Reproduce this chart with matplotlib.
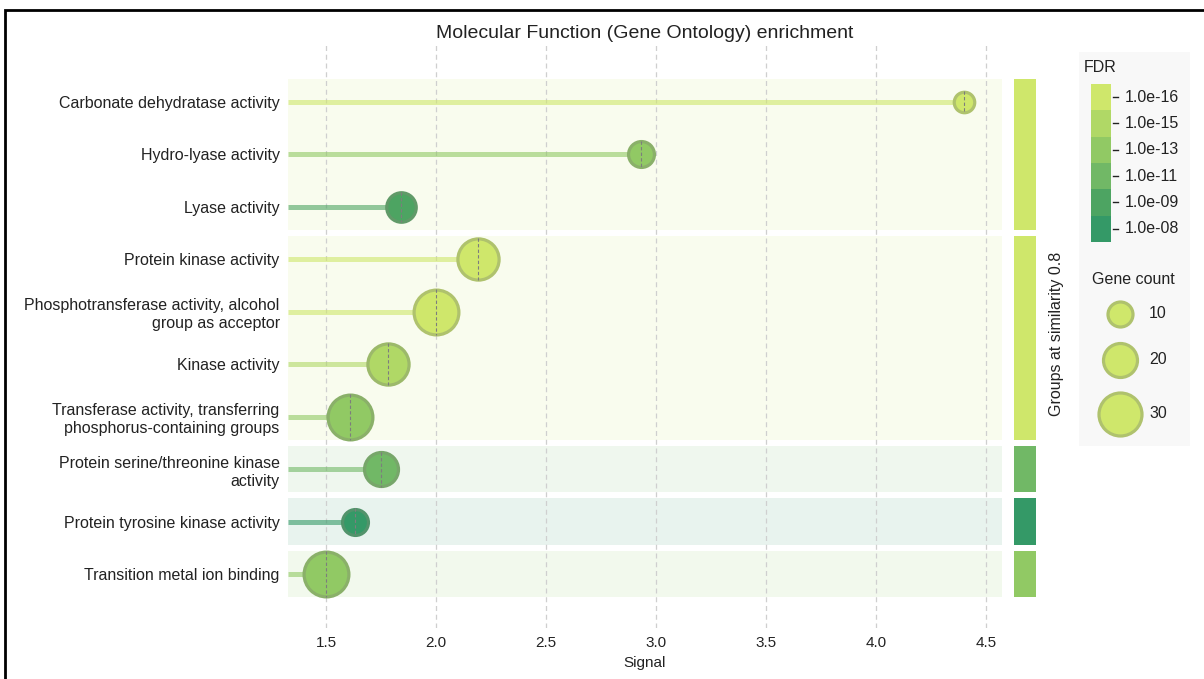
import numpy as np
import matplotlib
matplotlib.use("Agg")
import matplotlib.pyplot as plt
from matplotlib.colors import to_rgb
from matplotlib.patches import Rectangle

plt.rcParams['font.family'] = ['Liberation Sans', 'DejaVu Sans']

# data
terms = ["Carbonate dehydratase activity",
         "Hydro-lyase activity",
         "Lyase activity",
         "Protein kinase activity",
         "Phosphotransferase activity, alcohol\ngroup as acceptor",
         "Kinase activity",
         "Transferase activity, transferring\nphosphorus-containing groups",
         "Protein serine/threonine kinase\nactivity",
         "Protein tyrosine kinase activity",
         "Transition metal ion binding"]
signal = [4.40, 2.93, 1.84, 2.19, 2.00, 1.78, 1.61, 1.75, 1.63, 1.50]
gene_count = [5, 11, 15, 28, 32, 28, 32, 20, 11, 32]
fdr_level = [0, 2, 4, 0, 0, 1, 2, 3, 5, 2]   # index into fdr_labels
groups = [0, 0, 0, 1, 1, 1, 1, 2, 3, 4]
group_fdr = [0, 0, 3, 5, 2]

fdr_labels = ["1.0e-16", "1.0e-15", "1.0e-13", "1.0e-11", "1.0e-09", "1.0e-08"]
fdr_colors = ["#cfe76b", "#b0d866", "#91c964", "#71b866", "#4da462", "#349967"]
legend_counts = [10, 20, 30]
xticks = [1.5, 2.0, 2.5, 3.0, 3.5, 4.0, 4.5]

DPI = 100
W, H = 1204, 679
TXT = "#222222"
fig = plt.figure(figsize=(W / DPI, H / DPI), dpi=DPI)


def edge_of(c):
    c = np.array(to_rgb(c))
    return tuple(0.6 * c + 0.4 * np.array(to_rgb("#7f8a70")))


def radius_px(n):
    return 9.5 + 0.45 * n


def size_pts(n):
    r = radius_px(n) - 1.5
    return (2 * r * 72 / DPI) ** 2


def fig_rect(x0, y0, x1, y1):
    return [x0 / W, 1 - y1 / H, (x1 - x0) / W, (y1 - y0) / H]


ax = fig.add_axes(fig_rect(288, 45, 1002, 628))
n = len(terms)
ypos = np.arange(n)
xmin, xmax = 1.327, 4.573
row_h = 52.44
ylo = -(102 - 45) / row_h
yhi = (n - 1) + (628 - 574) / row_h
ax.set_xlim(xmin, xmax)
ax.set_ylim(yhi, ylo)

for s in ax.spines.values():
    s.set_visible(False)

for xt in xticks:
    ax.axvline(xt, color="#cfcfcf", lw=0.9, ls=(0, (4, 3)), zorder=0.5)

# group bands
gap = 0.06
for g in sorted(set(groups)):
    rows = [i for i in range(n) if groups[i] == g]
    top, bot = min(rows) - 0.5 + gap, max(rows) + 0.5 - gap
    col = fdr_colors[group_fdr[g]]
    ax.add_patch(Rectangle((xmin, top), xmax - xmin, bot - top,
                           facecolor=col, alpha=0.11, lw=0, zorder=0.2))

for i in range(n):
    col = fdr_colors[fdr_level[i]]
    ax.plot([xmin, signal[i]], [i, i], color=col, alpha=0.6, lw=3.6,
            solid_capstyle="butt", zorder=1)
    ax.scatter(signal[i], i, s=size_pts(gene_count[i]), color=col,
               edgecolor=edge_of(col), linewidth=2.3, zorder=2)
    r = (radius_px(gene_count[i]) - 1) / row_h
    ax.plot([signal[i], signal[i]], [i - r, i + r], color="#7d7d7d",
            lw=0.8, ls=(0, (3, 2)), zorder=3)

ax.set_xticks(xticks)
ax.set_xticklabels([f"{v:.1f}" for v in xticks], fontsize=11, color=TXT)
ax.tick_params(axis="x", length=0, pad=6)
ax.set_yticks(ypos)
ax.set_yticklabels(terms, fontsize=11.5, color=TXT, linespacing=1.25)
ax.tick_params(axis="y", length=0, pad=6)
ax.set_xlabel("Signal", fontsize=11, color=TXT, labelpad=4)

# group colour bars
gax = fig.add_axes(fig_rect(1014, 45, 1036, 628))
gax.set_xlim(0, 1)
gax.set_ylim(yhi, ylo)
gax.axis("off")
for g in sorted(set(groups)):
    rows = [i for i in range(n) if groups[i] == g]
    top, bot = min(rows) - 0.5 + gap, max(rows) + 0.5 - gap
    gax.add_patch(Rectangle((0, top), 1, bot - top,
                            facecolor=fdr_colors[group_fdr[g]], lw=0))
fig.text(1057 / W, 1 - 334 / H, "Groups at similarity 0.8", rotation=90,
         ha="center", va="center", fontsize=11.5, color=TXT)

# legend panel
lax = fig.add_axes(fig_rect(1079, 52, 1190, 446))
lax.set_xlim(1079, 1190)
lax.set_ylim(446, 52)
lax.set_facecolor("#f8f8f8")
for s in lax.spines.values():
    s.set_visible(False)
lax.set_xticks([])
lax.set_yticks([])

lax.text(1084, 67, "FDR", fontsize=11.5, va="center", ha="left", color=TXT)
bh = (242 - 84) / len(fdr_labels)
for k, (lab, col) in enumerate(zip(fdr_labels, fdr_colors)):
    y0 = 84 + k * bh
    lax.add_patch(Rectangle((1091, y0), 20, bh, facecolor=col, lw=0))
    yc = y0 + bh / 2
    lax.plot([1113, 1118], [yc, yc], color=TXT, lw=1)
    lax.text(1125, yc, lab, fontsize=11.5, va="center", ha="left", color=TXT)

lax.text(1133, 280, "Gene count", fontsize=11.5, va="center", ha="center", color=TXT)
for cnt, yc in zip(legend_counts, [314, 360, 414]):
    lax.scatter(1120, yc, s=size_pts(cnt), color=fdr_colors[0],
                edgecolor=edge_of(fdr_colors[0]), linewidth=2.3, clip_on=False)
    lax.text(1149, yc, str(cnt), fontsize=11.5, va="center", ha="left", color=TXT)

fig.text(645 / W, 1 - 33 / H, "Molecular Function (Gene Ontology) enrichment",
         ha="center", va="center", fontsize=14, color=TXT)

# outer frame
fig.patches.append(Rectangle((5 / W, -0.1), 1.2, 1.1 - 10 / H, transform=fig.transFigure,
                             fill=False, edgecolor="black", lw=2, zorder=10))

fig.savefig("out.png", dpi=DPI)
